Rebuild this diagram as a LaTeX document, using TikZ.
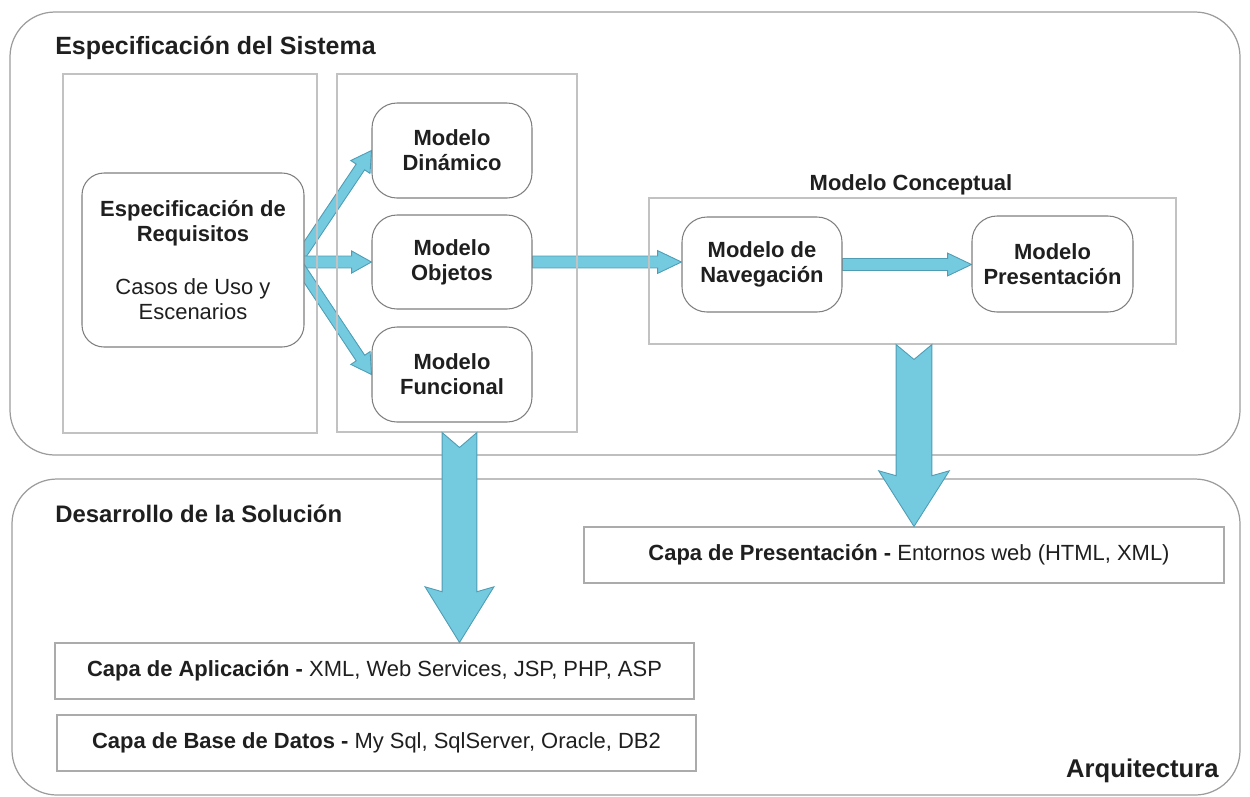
\documentclass[tikz,border=0pt]{standalone}
\usepackage{fontspec}
\setmainfont{Liberation Sans}
\usetikzlibrary{calc}
\pgfdeclarelayer{background}
\pgfsetlayers{background,main}

\definecolor{arrowfill}{HTML}{74CADF}
\definecolor{arrowline}{HTML}{4E9DB5}
\definecolor{modelline}{HTML}{7F7F7F}
\definecolor{panelline}{HTML}{C2C2C2}
\definecolor{layerline}{HTML}{ABABAB}
\definecolor{outerline}{HTML}{9C9C9C}
\definecolor{ink}{HTML}{1F1F1F}

\newcommand{\pxu}{0.02cm}
% block arrow: from, to, shaft half width, head half width,
% head length at the shaft, head length at the barbs, tail notch depth, style
\newcommand{\blockarrow}[8]{%
  \coordinate (ba-j) at ($#2!#5!#1$);
  \coordinate (ba-b) at ($#2!#6!#1$);
  \draw[#8] ($#1!#3!90:#2$) -- ($(ba-j)!#3!90:#2$) -- ($(ba-b)!#4!90:#2$) -- #2
    -- ($(ba-b)!#4!-90:#2$) -- ($(ba-j)!#3!-90:#2$) -- ($#1!#3!-90:#2$)
    -- ($#1!#7!#2$) -- cycle;
}

\tikzset{
  wh/.style 2 args={minimum width={#1*\pxu}, minimum height={#2*\pxu}},
  txt/.style={text=ink, font=\fontsize{12.5}{14.2}\selectfont},
  container/.style={draw=outerline, line width=0.7pt, rounded corners=0.9cm, inner sep=0pt},
  panel/.style={draw=panelline, line width=0.6pt, inner sep=0pt},
  modelbox/.style={draw=modelline, line width=0.6pt, rounded corners=0.5cm, fill=white,
    align=center, inner sep=0pt, text=ink, font=\bfseries\fontsize{12.5}{14.2}\selectfont},
  layerbox/.style={draw=layerline, line width=0.6pt, fill=white, inner sep=0pt,
    text=ink, font=\fontsize{12.5}{14.2}\selectfont},
  heading/.style={text=ink, font=\bfseries\fontsize{14.2}{16}\selectfont, inner sep=0pt},
  thinarrow/.style={fill=arrowfill, draw=arrowline, line width=0.5pt, line join=miter},
  bigarrow/.style={fill=arrowfill, draw=arrowline, line width=0.5pt, line join=miter},
}

\begin{document}
\begin{tikzpicture}[x=0.02cm, y=-0.02cm]
\useasboundingbox (0,0) rectangle (1250,796);

% the two large regions
\node[container, wh={1230}{443}] (spec) at (625,233.5) {};
\node[container, wh={1228}{316}] (sol) at (626,637) {};

\node[heading, anchor=base west] (specT) at (55,54) {Especificación del Sistema};
\node[heading, anchor=base west, font=\bfseries\fontsize{13.6}{16}\selectfont] (solT) at (55,522) {Desarrollo de la Solución};
\node[heading, anchor=base east, font=\bfseries\fontsize{14.6}{16}\selectfont] (arqT) at (1219,777) {Arquitectura};

% framing panels
\node[panel, wh={254}{359}] (reqpanel) at (190,253.5) {};
\node[panel, wh={240}{358}] (modpanel) at (457,253) {};
\node[panel, wh={527}{146}] (concpanel) at (912.5,271) {};
\node[txt, font=\bfseries\fontsize{12.5}{14.2}\selectfont, anchor=base] (concT) at (911,190) {Modelo Conceptual};

% requirement specification
\node[modelbox, rounded corners=0.44cm, wh={222}{174}, font=\fontsize{12.5}{14.2}\selectfont] (req) at (193,260)
  {\textbf{Especificación de}\\\textbf{Requisitos}\\[16.4pt]Casos de Uso y\\Escenarios};

% models
\node[modelbox, wh={160}{95}] (dyn) at (452,150.5) {Modelo\\Dinámico};
\node[modelbox, wh={160}{94}] (obj) at (452,262) {Modelo\\Objetos};
\node[modelbox, wh={160}{95}] (fun) at (452,374.5) {Modelo\\Funcional};
\node[modelbox, wh={160}{95}] (nav) at (762,264.5) {Modelo de\\Navegación};
\node[modelbox, wh={161}{96}] (pres) at (1052.5,264) {Modelo\\Presentación};

% architecture layers
\node[layerbox, wh={640}{56}] (lpres) at (904,555) {\hspace*{0.2cm}\textbf{Capa de Presentación -} Entornos web (HTML, XML)};
\node[layerbox, wh={639}{56}] (lapp) at (374.5,671) {\textbf{Capa de Aplicación -} XML, Web Services, JSP, PHP, ASP};
\node[layerbox, wh={639}{56}] (ldb) at (376.5,743) {\textbf{Capa de Base de Datos -} My Sql, SqlServer, Oracle, DB2};

% thin flow arrows, under the panels and boxes
\coordinate (fan) at ($(req.east |- obj.west)+(-8,0)$);
\coordinate (navin) at (nav.west |- obj.east);
\coordinate (presin) at (pres.west |- nav.east);
\begin{pgfonlayer}{background}
\blockarrow{(fan)}{(dyn.west)}{2.9pt}{6.6pt}{11.3pt}{11.3pt}{0pt}{thinarrow}
\blockarrow{(fan)}{(obj.west)}{3.4pt}{6.3pt}{11.3pt}{11.3pt}{0pt}{thinarrow}
\blockarrow{(fan)}{(fun.west)}{2.9pt}{6.6pt}{11.3pt}{11.3pt}{0pt}{thinarrow}
\blockarrow{(obj.east)}{(navin)}{3.4pt}{6.5pt}{13.6pt}{13.6pt}{0pt}{thinarrow}
\blockarrow{(nav.east)}{(presin)}{3.4pt}{6.5pt}{13.6pt}{13.6pt}{0pt}{thinarrow}
\end{pgfonlayer}

% large downward arrows into the architecture layers
\coordinate (dA) at ($(modpanel.south)+(2.5,0)$);
\coordinate (dAend) at (dA |- lapp.north);
\coordinate (dB) at ($(concpanel.south)+(1.5,0)$);
\coordinate (dBend) at (dB |- lpres.north);
\blockarrow{(dA)}{(dAend)}{9.9pt}{19.6pt}{28.9pt}{31.7pt}{8.5pt}{bigarrow}
\blockarrow{(dB)}{(dBend)}{10.2pt}{20.1pt}{28.9pt}{31.7pt}{8.5pt}{bigarrow}
\end{tikzpicture}
\end{document}
